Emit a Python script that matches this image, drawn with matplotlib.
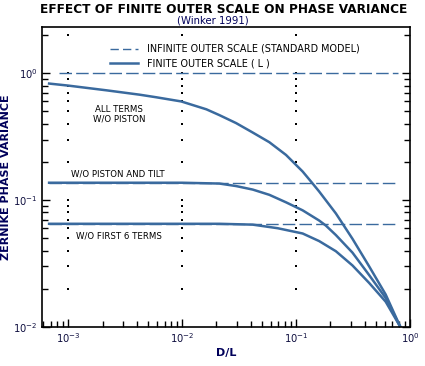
import numpy as np
import matplotlib.pyplot as plt
from matplotlib.ticker import LogLocator, NullFormatter

plt.rcParams['font.family'] = 'DejaVu Sans'

x_all = [6.8e-4, 1.0e-3, 2.17e-3, 4.24e-3, 5.93e-3, 9.8e-3, 1.63e-2, 2.12e-2, 2.97e-2,
         4.16e-2, 5.82e-2, 8.15e-2, 0.114, 0.135, 0.159, 0.223, 0.312, 0.437, 0.61, 0.82]
y_all = [0.83, 0.80, 0.734, 0.678, 0.647, 0.600, 0.520, 0.468, 0.405,
         0.341, 0.286, 0.227, 0.168, 0.140, 0.117, 0.0785, 0.0495, 0.0300, 0.0180, 0.010]

x_tilt = [6.8e-4, 3.2e-3, 1.0e-2, 2.12e-2, 2.97e-2, 4.16e-2, 5.82e-2, 8.15e-2, 0.114,
          0.159, 0.182, 0.223, 0.312, 0.437, 0.61, 0.82]
y_tilt = [0.137, 0.137, 0.137, 0.135, 0.129, 0.121, 0.110, 0.096, 0.083,
          0.069, 0.063, 0.053, 0.0385, 0.0256, 0.0169, 0.010]

x_six = [6.8e-4, 1.0e-2, 2.12e-2, 4.16e-2, 6.87e-2, 0.114, 0.159, 0.223, 0.312, 0.437, 0.61, 0.82]
y_six = [0.065, 0.065, 0.065, 0.064, 0.060, 0.0545, 0.0475, 0.0395, 0.0305, 0.0222, 0.0158, 0.010]

# infinite outer scale levels (standard model)
inf_levels = [1.0, 0.137, 0.065]
inf_start = [8.3e-4, 6.8e-4, 6.8e-4]
inf_end = 0.78

labels = ['ALL TERMS\nW/O PISTON', 'W/O PISTON AND TILT', 'W/O FIRST 6 TERMS']
label_x = [2.8e-3, 2.7e-3, 2.8e-3]
label_y = [0.40, 0.147, 0.057]
label_va = ['bottom', 'bottom', 'top']

line_col = '#3a6a9e'
navy = '#00005a'

fig = plt.figure(figsize=(4.25, 3.66), dpi=100)
ax = fig.add_axes([0.098, 0.107, 0.867, 0.818])

for lvl, x0 in zip(inf_levels, inf_start):
    ax.plot([x0, inf_end], [lvl, lvl], color=line_col, lw=1.0, dashes=(9, 3))
ax.plot(x_all, y_all, color=line_col, lw=1.8)
ax.plot(x_tilt, y_tilt, color=line_col, lw=1.8)
ax.plot(x_six, y_six, color=line_col, lw=1.8)

ax.set_xscale('log')
ax.set_yscale('log')
ax.set_xlim(5.85e-4, 1.0)
ax.set_ylim(1e-2, 2.3)

ax.xaxis.set_major_locator(LogLocator(base=10, numticks=10))
ax.xaxis.set_minor_locator(LogLocator(base=10, subs=np.arange(2, 10), numticks=20))
ax.yaxis.set_minor_locator(LogLocator(base=10, subs=np.arange(2, 10), numticks=20))
ax.xaxis.set_minor_formatter(NullFormatter())
ax.yaxis.set_minor_formatter(NullFormatter())
ax.tick_params(which='both', direction='in', left=True, right=True, top=False,
               bottom=True, labelsize=7.2, width=1, colors='black', labelcolor='#101040')
ax.tick_params(which='major', length=6, pad=3)
ax.tick_params(which='minor', length=4)
for s in ax.spines.values():
    s.set_linewidth(1.2)

# dotted grid: dots at each decade of D/L, one per y tick
yt = [t for t in np.concatenate([ax.yaxis.get_majorticklocs(), ax.yaxis.get_minorticklocs()])
      if 1e-2 < t < 2.3]
for xd in [1e-3, 1e-2, 1e-1]:
    ax.scatter([xd] * len(yt), yt, s=0.6, color='black', marker='s', lw=0, zorder=1)

for t, lx, ly, va in zip(labels, label_x, label_y, label_va):
    ax.text(lx, ly, t, ha='center', va=va, fontsize=6.2, linespacing=1.05)

ax.plot([], [], color=line_col, lw=1.0, dashes=(6, 3), label='INFINITE OUTER SCALE (STANDARD MODEL)')
ax.plot([], [], color=line_col, lw=1.8, label='FINITE OUTER SCALE ( L )')
ax.legend(loc='upper left', bbox_to_anchor=(0.185, 0.945), frameon=False, fontsize=6.9,
          handlelength=2.9, handletextpad=1.0, borderpad=0, borderaxespad=0, labelspacing=0.5)

fig.text(0.527, 0.975, 'EFFECT OF FINITE OUTER SCALE ON PHASE VARIANCE', ha='center', va='center',
         fontsize=8.75, fontweight='bold', color='black')
fig.text(0.5, 0.945, '(Winker 1991)', ha='center', va='center', fontsize=7.3, color=navy)
ax.set_xlabel('D/L', fontsize=8, fontweight='bold', color=navy, labelpad=2)
ax.set_ylabel('ZERNIKE PHASE VARIANCE', fontsize=8, fontweight='bold', color=navy)
ax.yaxis.set_label_coords(-0.082, 0.5)

fig.savefig('out.png', dpi=100)
